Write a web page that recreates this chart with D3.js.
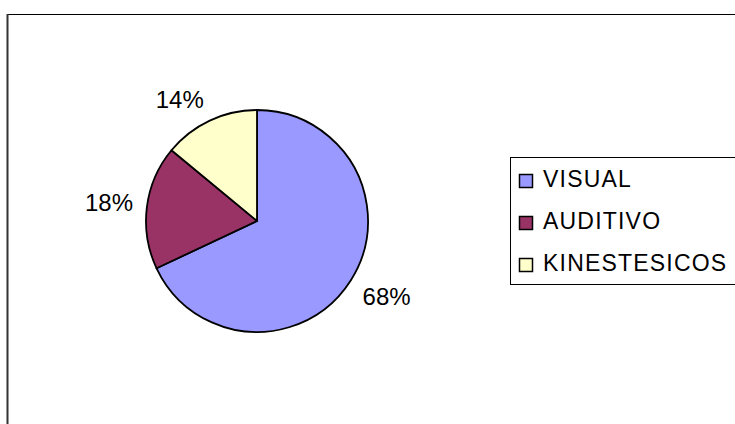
<!DOCTYPE html>
<html>
<head>
<meta charset="utf-8">
<script src="https://d3js.org/d3.v7.min.js"></script>
<style>
  body { margin: 0; background: #fff; }
  text { font-family: Arial, "Liberation Sans", sans-serif; fill: #000; }
</style>
</head>
<body>
<div id="chart"></div>
<script>
// data
const categories = ["VISUAL", "AUDITIVO", "KINESTESICOS"];
const values = [68, 18, 14];
const colors = ["#9999FF", "#993366", "#FFFFCC"];

// size of plot
const width = 735;
const height = 424;
const cx = 257, cy = 221, radius = 111;

const svg = d3.select("#chart")
    .append("svg")
    .attr("width", width)
    .attr("height", height);

// chart frame (runs off the right and bottom edges)
svg.append("rect")
    .attr("x", 7.5)
    .attr("y", 14.5)
    .attr("width", 760)
    .attr("height", 440)
    .attr("fill", "#fff")
    .attr("stroke", "#000")
    .attr("stroke-width", 1);
svg.append("line")
    .attr("x1", 7.5).attr("x2", 7.5)
    .attr("y1", 14).attr("y2", height)
    .attr("stroke", "#333")
    .attr("stroke-width", 2);

const color = d3.scaleOrdinal().domain(categories).range(colors);

const pie = d3.pie()
    .sort(null)
    .value(d => d.value);

const arcs = pie(categories.map((c, i) => ({ name: c, value: values[i] })));
const total = d3.sum(values);

const arc = d3.arc().innerRadius(0).outerRadius(radius);

const g = svg.append("g")
    .attr("transform", `translate(${cx},${cy})`);

g.selectAll("path")
    .data(arcs)
    .enter().append("path")
        .attr("d", arc)
        .attr("fill", d => color(d.data.name))
        .attr("stroke", "#000")
        .attr("stroke-width", 1.8)
        .attr("stroke-linejoin", "round");

// percentage labels, pushed outside the slice like excel does
const labelR = radius + 14;
const clamp = v => Math.max(-1, Math.min(1, v));

const pct = g.selectAll("text.pct")
    .data(arcs)
    .enter().append("text")
        .attr("class", "pct")
        .attr("text-anchor", "middle")
        .attr("dy", "0.35em")
        .attr("font-size", 24)
        .text(d => Math.round(d.data.value / total * 100) + "%");

pct.each(function(d) {
    const a = (d.startAngle + d.endAngle) / 2;
    const box = this.getBBox();
    const sx = clamp(Math.sin(a) * 3), sy = clamp(-Math.cos(a) * 3);
    const x = labelR * Math.sin(a) + sx * box.width / 2;
    const y = -labelR * Math.cos(a) + sy * 17 / 2;
    d3.select(this).attr("transform", `translate(${x},${y})`);
});

// legend
const legend = svg.append("g")
    .attr("transform", "translate(510,157)");

legend.append("rect")
    .attr("x", 0.5)
    .attr("y", 0.5)
    .attr("width", 240)
    .attr("height", 127)
    .attr("fill", "#fff")
    .attr("stroke", "#000")
    .attr("stroke-width", 1);

const rowY = d3.scalePoint().domain(categories).range([30, 114]);

const item = legend.selectAll("g.item")
    .data(categories)
    .enter().append("g")
        .attr("class", "item")
        .attr("transform", d => `translate(0,${rowY(d)})`);

item.append("rect")
    .attr("x", 9.5)
    .attr("y", -12.5)
    .attr("width", 13)
    .attr("height", 13)
    .attr("fill", d => color(d))
    .attr("stroke", "#000")
    .attr("stroke-width", 1.5);

item.append("text")
    .attr("x", 33)
    .attr("y", 0)
    .attr("font-size", 23)
    .attr("letter-spacing", 1.2)
    .text(d => d);
</script>
</body>
</html>
